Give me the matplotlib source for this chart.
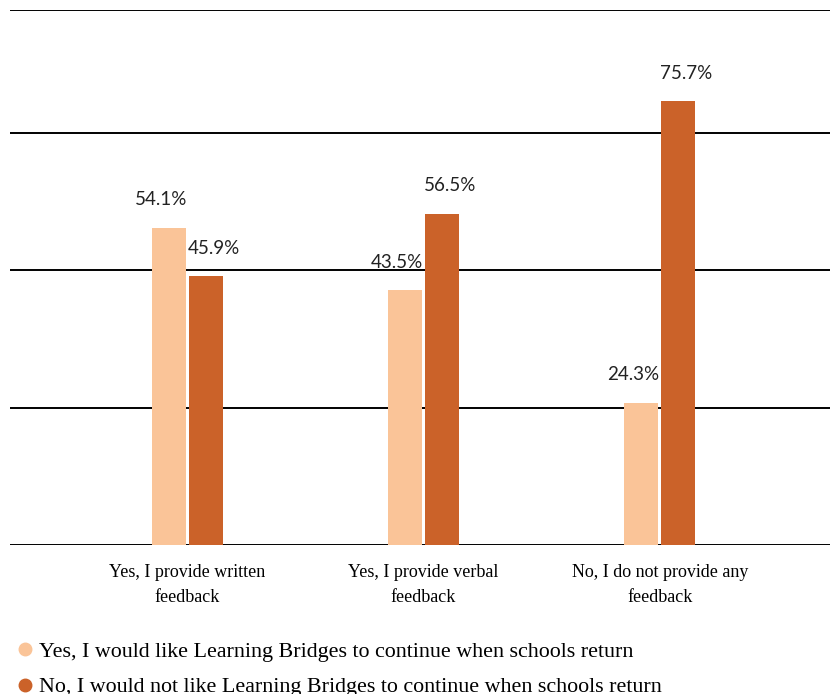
import matplotlib
matplotlib.use('Agg')
import matplotlib.pyplot as plt
import numpy as np
from matplotlib.lines import Line2D

categories = ["Yes, I provide written\nfeedback",
              "Yes, I provide verbal\nfeedback",
              "No, I do not provide any\nfeedback"]
yes_continue = [54.1, 43.5, 24.3]
no_continue = [45.9, 56.5, 75.7]
series_names = ["Yes, I would like Learning Bridges to continue when schools return",
                "No, I would not like Learning Bridges to continue when schools return"]
grid_levels = [0, 23.43, 46.86, 70.29, 91.3]

LIGHT = '#FAC498'
DARK = '#CB6229'
SERIF = ['Liberation Serif', 'DejaVu Serif']

fig = plt.figure(figsize=(8.3, 6.94), dpi=100)
ax = fig.add_axes([0.012, 0.2147, 0.988, 0.7709])

x = np.arange(len(categories))
w = 0.144
off = 0.078
ax.bar(x - off, yes_continue, w, color=LIGHT, zorder=3)
ax.bar(x + off, no_continue, w, color=DARK, zorder=3)

for xi, v in zip(x, yes_continue):
    ax.annotate(f"{v}%", (xi - off, v), xytext=(-8, 28), textcoords='offset pixels',
                ha='center', va='center', fontsize=13.5, family='Lato', color='#222222')
for xi, v in zip(x, no_continue):
    ax.annotate(f"{v}%", (xi + off, v), xytext=(8, 28), textcoords='offset pixels',
                ha='center', va='center', fontsize=13.5, family='Lato', color='#222222')

for g in grid_levels:
    ax.axhline(g, color='black', lw=1.4, zorder=2)

ax.set_xlim(-0.75, 2.72)
ax.set_ylim(0, 91.3)
ax.set_yticks([])
ax.set_xticks(x)
ax.set_xticklabels(categories, family=SERIF, fontsize=13, linespacing=1.6)
ax.tick_params(axis='x', length=0, pad=14)
for s in ax.spines.values():
    s.set_visible(False)

handles = [Line2D([], [], marker='o', ls='', color=LIGHT, markersize=9),
           Line2D([], [], marker='o', ls='', color=DARK, markersize=9)]
fig.legend(handles, series_names, loc='upper left', bbox_to_anchor=(0.006, 0.088), frameon=False,
           prop={'family': SERIF, 'size': 15.8}, handletextpad=0.15, labelspacing=0.68,
           handlelength=1.0, borderaxespad=0)

fig.savefig('out.png', dpi=100)
